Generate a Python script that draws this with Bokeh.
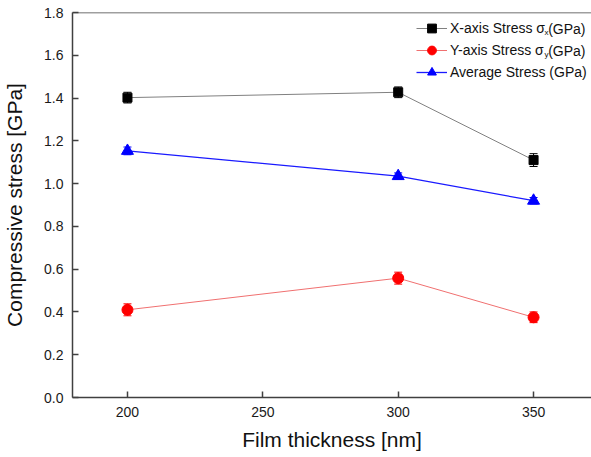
from bokeh.plotting import figure
from bokeh.models import (ColumnDataSource, Whisker, TeeHead, Legend, LegendItem, Label,
                          FixedTicker, PrintfTickFormatter, Span, Range1d)
from bokeh.embed import file_html
from bokeh.resources import INLINE

thickness = [200, 300, 350]
x_stress = [1.402, 1.427, 1.110]
x_err = [0.025, 0.025, 0.030]
y_stress = [0.410, 0.558, 0.375]
y_err = [0.028, 0.028, 0.025]
avg_stress = [1.153, 1.035, 0.920]
avg_err = [0.018, 0.015, 0.015]

x_ticks = [200, 250, 300, 350]
y_ticks = [0.0, 0.2, 0.4, 0.6, 0.8, 1.0, 1.2, 1.4, 1.6, 1.8]

FONT = "Liberation Sans"
X_END = 371.4
Y_END = 1.8

p = figure(width=591, height=457, output_backend="svg", toolbar_location=None,
           x_range=Range1d(179.7, X_END), y_range=Range1d(0, Y_END),
           min_border_left=72, min_border_right=0, min_border_top=12, min_border_bottom=60)
p.outline_line_color = None
p.grid.visible = False
p.background_fill_color = "white"
p.border_fill_color = "white"

def src(vals, err):
    return ColumnDataSource(dict(x=thickness, y=vals,
                                 lo=[v - e for v, e in zip(vals, err)],
                                 hi=[v + e for v, e in zip(vals, err)]))

s_x = src(x_stress, x_err)
s_y = src(y_stress, y_err)
s_a = src(avg_stress, avg_err)

lx = p.line("x", "y", source=s_x, line_color="#808080", line_width=1)
ly = p.line("x", "y", source=s_y, line_color="#f07070", line_width=1)
la = p.line("x", "y", source=s_a, line_color="#1a1aff", line_width=1.3)

for s, c in [(s_x, "black"), (s_y, "red"), (s_a, "blue")]:
    w = Whisker(source=s, base="x", upper="hi", lower="lo", line_color=c, line_width=1,
                upper_head=TeeHead(size=8, line_color=c), lower_head=TeeHead(size=8, line_color=c))
    p.add_layout(w)

mx = p.scatter("x", "y", source=s_x, marker="square", size=9, color="black")
my = p.scatter("x", "y", source=s_y, marker="circle", size=11, color="red")
ma = p.scatter("x", "y", source=s_a, marker="triangle", size=12, color="blue")

for ax in (p.xaxis[0], p.yaxis[0]):
    ax.axis_line_color = "#404040"
    ax.axis_line_width = 1.5
    ax.major_tick_line_color = "#404040"
    ax.major_tick_line_width = 1.5
    ax.major_tick_in = 6
    ax.major_tick_out = 0
    ax.minor_tick_line_color = None
    ax.major_label_text_font = FONT
    ax.major_label_text_font_size = "14px"
    ax.major_label_text_color = "#1a1a1a"
    ax.axis_label_text_font = FONT
    ax.axis_label_text_font_size = "21px"
    ax.axis_label_text_font_style = "normal"
    ax.axis_label_text_color = "#111111"

p.xaxis[0].ticker = FixedTicker(ticks=x_ticks)
p.yaxis[0].ticker = FixedTicker(ticks=y_ticks)
p.yaxis[0].formatter = PrintfTickFormatter(format="%.1f")
p.xaxis[0].axis_label = "Film thickness [nm]"
p.yaxis[0].axis_label = "Compressive stress [GPa]"
p.xaxis[0].major_label_standoff = 9
p.xaxis[0].axis_label_standoff = 8
p.yaxis[0].major_label_standoff = 9
p.yaxis[0].axis_label_standoff = 15

p.add_layout(Span(location=Y_END, dimension="width", line_color="#404040", line_width=1.5))

legend = Legend(items=[
    LegendItem(label="X-axis Stress σ", renderers=[lx, mx]),
    LegendItem(label="Y-axis Stress σ", renderers=[ly, my]),
    LegendItem(label="Average Stress (GPa)", renderers=[la, ma]),
], location=(344, 314), padding=0, margin=0, spacing=0,
   glyph_width=31, glyph_height=22, label_height=22, label_standoff=3,
   label_text_font=FONT, label_text_font_size="14px", label_text_color="#111111",
   border_line_color=None, background_fill_alpha=0)
p.add_layout(legend)

for off, sub in [(-16, "x"), (-38, "y")]:
    p.add_layout(Label(x=X_END, y=Y_END, x_offset=-6, y_offset=off, text="(GPa)",
                       text_align="right", text_baseline="middle", text_font=FONT,
                       text_font_size="14px", text_color="#111111"))
    p.add_layout(Label(x=X_END, y=Y_END, x_offset=-43, y_offset=off - 4, text=sub,
                       text_align="right", text_baseline="middle", text_font=FONT,
                       text_font_size="8px", text_color="#111111"))

open("out.html", "w").write(file_html(p, INLINE))
